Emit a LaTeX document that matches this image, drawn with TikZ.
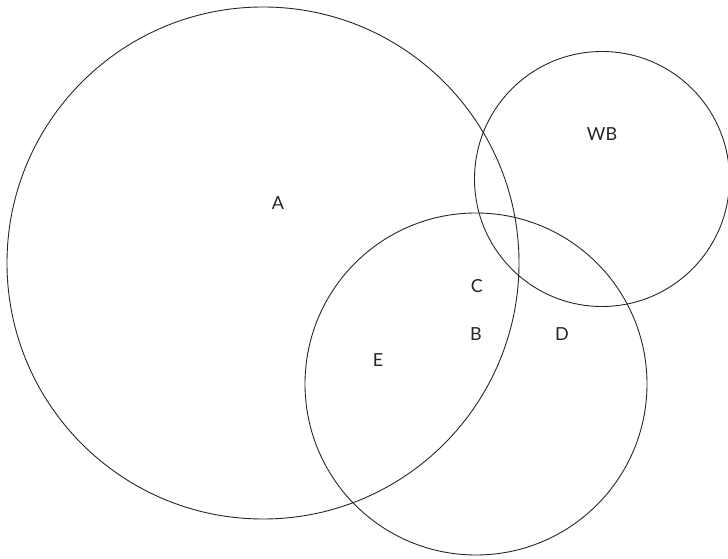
\documentclass[tikz,border=0pt]{standalone}
\usepackage{fontspec}
\setmainfont{Lato}
\begin{document}
\begin{tikzpicture}[x=1pt,y=1pt,
  ring/.style={draw=black!85, line width=0.9pt},
  lbl/.style={font=\fontsize{18}{20}\selectfont, text=black!85}]
\useasboundingbox (0,0) rectangle (728,559);
\draw[ring] (263,296) circle (256);
\draw[ring] (476,175) circle (171);
\draw[ring] (602,380) circle (127.5);
\node[lbl] (A) at (278,356) {A};
\node[lbl] (WB) at (602,425) {WB};
\node[lbl] (C) at (477,273) {C};
\node[lbl] (B) at (476,225) {B};
\node[lbl] (D) at (562,225) {D};
\node[lbl] (E) at (378,199) {E};
\end{tikzpicture}
\end{document}
